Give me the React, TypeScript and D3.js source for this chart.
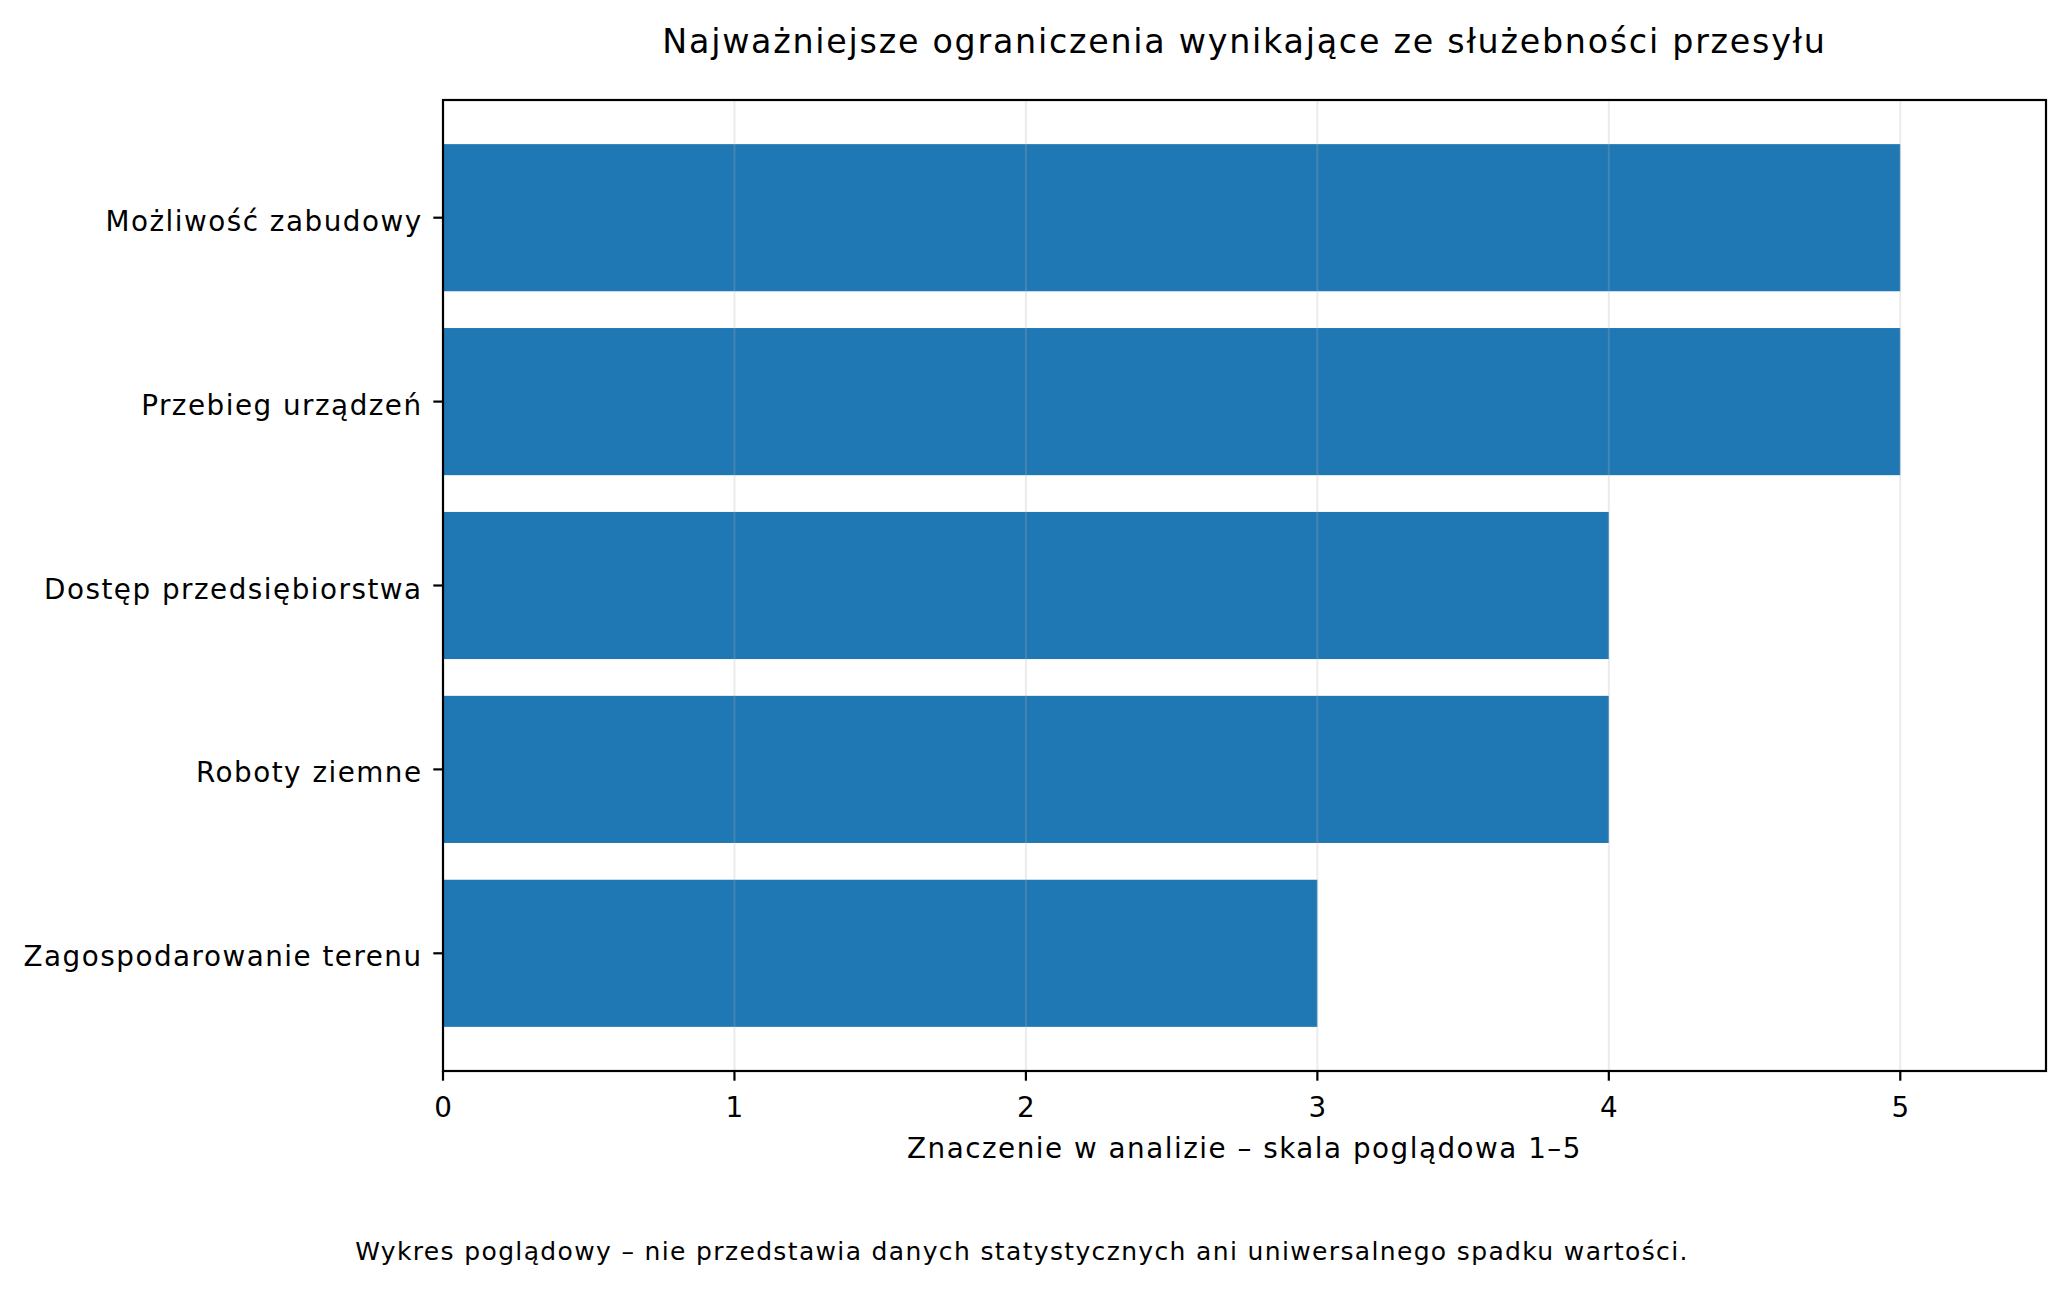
import React from "react";
import * as d3 from "d3";

// chart data
const categories = [
  "Możliwość zabudowy",
  "Przebieg urządzeń",
  "Dostęp przedsiębiorstwa",
  "Roboty ziemne",
  "Zagospodarowanie terenu",
];
const values = [5, 5, 4, 4, 3];
const xTicks = [0, 1, 2, 3, 4, 5];

const title = "Najważniejsze ograniczenia wynikające ze służebności przesyłu";
const xLabel = "Znaczenie w analizie – skala poglądowa 1–5";
const footnote =
  "Wykres poglądowy – nie przedstawia danych statystycznych ani uniwersalnego spadku wartości.";

const W = 2066;
const H = 1290;
const FONT = "DejaVu Sans, sans-serif";

const App: React.FC = () => {
  const margin = { top: 100, right: 20, bottom: 219, left: 443 };
  const x0 = margin.left;
  const x1 = W - margin.right; // 2046
  const y0 = margin.top;
  const y1 = H - margin.bottom; // 1071

  const x = d3.scaleLinear().domain([0, 5.5]).range([x0, x1]);
  // matplotlib style: bar height 0.8, 5% margins, first category on top
  const n = categories.length;
  const pad = 0.4 + 0.05 * (n - 1 + 0.8);
  const y = d3.scaleLinear().domain([-pad, n - 1 + pad]).range([y0, y1]);
  const barH = y(0.4) - y(-0.4);

  const tickLen = 9.7;
  const lw = 2.2;
  // matplotlib's glyph layout is a little wider than the browser's
  const ls = 1.5;

  return (
    <svg
      width={W}
      height={H}
      style={{ position: "absolute", left: 0, top: 0, background: "#fff" }}
      fontFamily={FONT}
    >
      <rect x={0} y={0} width={W} height={H} fill="#fff" />

      {/* bars */}
      {categories.map((c, i) => (
        <rect
          key={c}
          x={x(0)}
          y={y(i) - barH / 2}
          width={x(values[i]) - x(0)}
          height={barH}
          fill="#1f77b4"
        />
      ))}

      {/* vertical grid */}
      {xTicks.map((t) => (
        <line
          key={"g" + t}
          x1={x(t)}
          x2={x(t)}
          y1={y0}
          y2={y1}
          stroke="#b0b0b0"
          strokeOpacity={0.25}
          strokeWidth={2}
        />
      ))}

      {/* frame */}
      <rect
        x={x0}
        y={y0}
        width={x1 - x0}
        height={y1 - y0}
        fill="none"
        stroke="#000"
        strokeWidth={lw}
      />

      {/* x ticks */}
      {xTicks.map((t) => (
        <g key={"xt" + t}>
          <line
            x1={x(t)}
            x2={x(t)}
            y1={y1}
            y2={y1 + tickLen}
            stroke="#000"
            strokeWidth={lw}
          />
          <text
            x={x(t)}
            y={1116.5}
            textAnchor="middle"
            fontSize={27.8}
            fill="#000"
          >
            {t}
          </text>
        </g>
      ))}

      {/* y ticks */}
      {categories.map((c, i) => (
        <g key={"yt" + c}>
          <line
            x1={x0 - tickLen}
            x2={x0}
            y1={y(i)}
            y2={y(i)}
            stroke="#000"
            strokeWidth={lw}
          />
          <text
            x={x0 - 2 * tickLen - 1}
            y={y(i) + 13}
            textAnchor="end"
            fontSize={27.8}
            letterSpacing={ls}
            fill="#000"
          >
            {c}
          </text>
        </g>
      ))}

      {/* x label */}
      <text
        x={(x0 + x1) / 2}
        y={1158}
        textAnchor="middle"
        fontSize={27.8}
        letterSpacing={ls}
        fill="#000"
      >
        {xLabel}
      </text>

      {/* title */}
      <text
        x={(x0 + x1) / 2}
        y={52.7}
        textAnchor="middle"
        fontSize={33.3}
        letterSpacing={1.75}
        fill="#000"
      >
        {title}
      </text>

      {/* footnote */}
      <text
        x={1022}
        y={1260}
        textAnchor="middle"
        fontSize={25}
        letterSpacing={1.35}
        fill="#000"
      >
        {footnote}
      </text>
    </svg>
  );
};

export default App;
